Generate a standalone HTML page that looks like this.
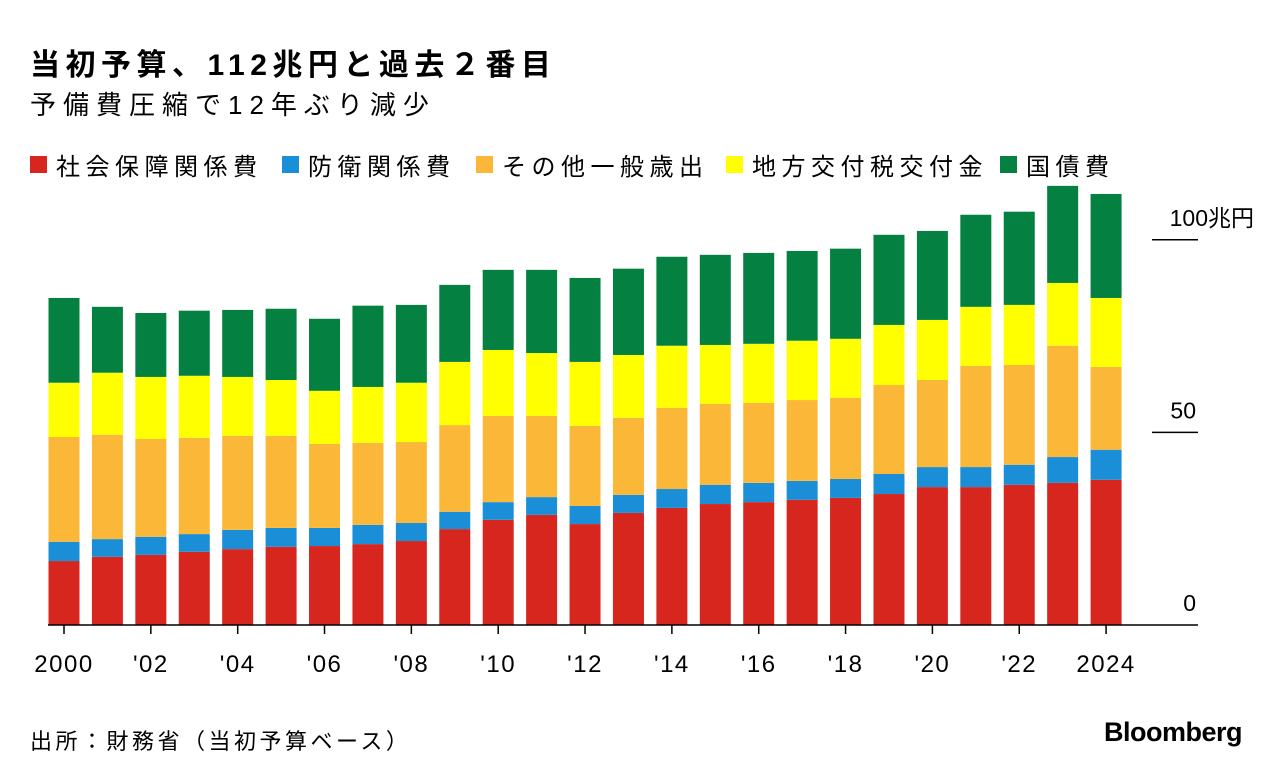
<!DOCTYPE html>
<html><head><meta charset="utf-8">
<style>
body{margin:0;background:#fff;width:1282px;height:778px;overflow:hidden;font-family:"Liberation Sans","Noto Sans CJK JP",sans-serif;color:#000}
.t{position:absolute;white-space:nowrap}
.leg{position:absolute;top:147px;display:flex;align-items:center;font-size:24px;letter-spacing:5.5px}
.sw{width:17px;height:17px;margin-right:9px}
</style></head><body>
<div class="t" style="left:30px;top:40px;font-size:30px;font-weight:bold;letter-spacing:5.5px">当初予算、112兆円と過去２番目</div>
<div class="t" style="left:30px;top:85px;font-size:26px;letter-spacing:7px">予備費圧縮で12年ぶり減少</div>
<div class="leg" style="left:30px"><div class="sw" style="background:#d7261e"></div>社会保障関係費</div>
<div class="leg" style="left:282px"><div class="sw" style="background:#1a8fd8"></div>防衛関係費</div>
<div class="leg" style="left:476px"><div class="sw" style="background:#fbb838"></div>その他一般歳出</div>
<div class="leg" style="left:726px"><div class="sw" style="background:#ffff00"></div>地方交付税交付金</div>
<div class="leg" style="left:1000px"><div class="sw" style="background:#048140"></div>国債費</div>
<svg id="chart" width="1282" height="778" style="position:absolute;left:0;top:0"></svg>
<div class="t" style="left:30px;top:724px;font-size:22px;letter-spacing:3.5px">出所：財務省（当初予算ベース）</div>
<div class="t" style="left:1104px;top:717px;font-size:27px;font-weight:bold;letter-spacing:-0.5px">Bloomberg</div>
<script>
const years=[2000,2001,2002,2003,2004,2005,2006,2007,2008,2009,2010,2011,2012,2013,2014,2015,2016,2017,2018,2019,2020,2021,2022,2023,2024];
const xLabels=["2000","'02","'04","'06","'08","'10","'12","'14","'16","'18","'20","'22","2024"];
const xLabelYears=[2000,2002,2004,2006,2008,2010,2012,2014,2016,2018,2020,2022,2024];
const social=[16.6,17.7,18.2,19.0,19.7,20.3,20.5,21.0,21.8,24.9,27.3,28.6,26.2,29.1,30.4,31.4,31.9,32.5,33.0,34.0,35.8,35.8,36.4,36.9,37.7];
const defense=[5.0,4.6,4.7,4.6,5.0,4.9,4.7,5.0,4.7,4.5,4.6,4.6,4.7,4.7,4.9,5.0,5.0,4.9,4.9,5.2,5.2,5.2,5.2,6.7,7.8];
const other=[27.2,27.1,25.4,25.0,24.4,23.9,21.8,21.3,21.0,22.5,22.4,21.1,20.8,20.0,21.1,21.0,20.8,21.0,21.1,23.1,22.6,26.3,25.9,28.9,21.5];
const localTax=[14.1,16.1,16.1,16.1,15.3,14.5,13.8,14.5,15.4,16.4,17.1,16.3,16.6,16.3,16.1,15.3,15.3,15.4,15.3,15.6,15.6,15.3,15.6,16.3,17.9];
const debt=[22.0,17.1,16.6,16.9,17.4,18.5,18.7,21.1,20.2,20.0,20.8,21.6,21.8,22.4,23.1,23.4,23.6,23.3,23.4,23.4,23.1,23.9,24.2,25.2,27.0];
const yTicks=[0,50,100];
const yTickLabels=["0","50","100兆円"];
const series=[["social",social,"#d7261e"],["defense",defense,"#1a8fd8"],["other",other,"#fbb838"],["local-tax",localTax,"#ffff00"],["debt",debt,"#048140"]];
const NS="http://www.w3.org/2000/svg";
const svg=document.getElementById('chart');
const x=y=>64+(y-2000)*43.42;
const yS=v=>625-v*3.852;
const bw=31;
function mk(tag,attrs){const e=document.createElementNS(NS,tag);for(const k in attrs)e.setAttribute(k,attrs[k]);svg.appendChild(e);return e;}
years.forEach((yr,i)=>{
  let base=0;
  series.forEach(s=>{
    const v=s[1][i];
    const r=mk('rect',{x:x(yr)-bw/2,y:yS(base+v),width:bw,height:yS(base)-yS(base+v),fill:s[2]});
    
    
    base+=v;
  });
});
const ax=mk('line',{x1:48,x2:1198,y1:yS(0),y2:yS(0),stroke:'#000','stroke-width':1.5});


yTicks.forEach((t,i)=>{
  if(t>0){const l=mk('line',{x1:1152,x2:1198,y1:yS(t),y2:yS(t),stroke:'#000','stroke-width':1.5});
  
  }
  const tx=mk('text',{x:1196,y:yS(t)-14,'text-anchor':'end','font-size':23,'font-family':'"Liberation Sans","Noto Sans CJK JP",sans-serif'});
  tx.textContent=yTickLabels[i];
  if(t===100){tx.setAttribute('x',1254);}
  
  
});
xLabelYears.forEach((yr,i)=>{
  const l=mk('line',{x1:x(yr),x2:x(yr),y1:yS(0),y2:yS(0)+9,stroke:'#000','stroke-width':1.5});
  
  
  const tx=mk('text',{x:x(yr),y:672,'text-anchor':'middle','font-size':24,'letter-spacing':1.5,'font-family':'"Liberation Sans",sans-serif'});
  tx.textContent=xLabels[i];
  
  
});
</script>
</body></html>
